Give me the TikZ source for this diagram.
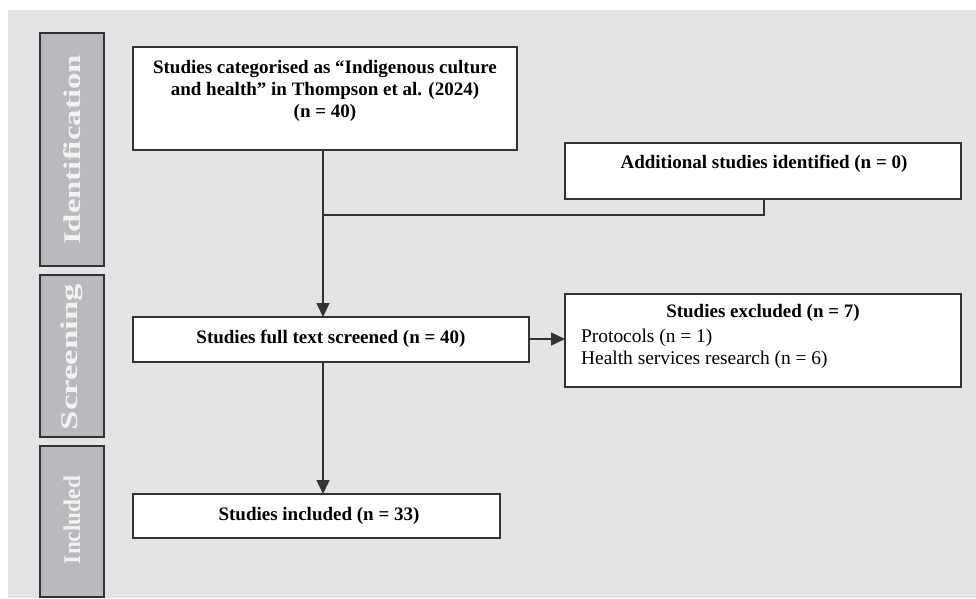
\documentclass[tikz,border=0pt]{standalone}
\usepackage{fontspec}
\setmainfont{Liberation Serif}
\usetikzlibrary{arrows.meta}
\definecolor{bg}{HTML}{E3E4E6}
\definecolor{barfill}{HTML}{B9BABD}
\definecolor{edge}{HTML}{333333}
\definecolor{bartext}{HTML}{F2F2F2}
\begin{document}
\begin{tikzpicture}[x=1pt,y=-1pt,
  box/.style={draw=edge, line width=1.2pt, fill=white},
  bar/.style={draw=edge, line width=1.3pt, fill=barfill},
  bartxt/.style={rotate=90, text=bartext, font=\bfseries\fontsize{24}{26}\selectfont},
  btxt/.style={font=\bfseries\fontsize{19}{22}\selectfont, align=center},
  rtxt/.style={font=\fontsize{19.4}{22}\selectfont},
  conn/.style={draw=edge, line width=1.4pt},
  arr/.style={conn, -{Triangle[length=14pt,width=13pt]}}]
\useasboundingbox (0,0) rectangle (976,598);
\fill[white] (0,0) rectangle (976,598);
\fill[bg] (8,10) rectangle (976,598);
% side bars
\draw[bar] (40,33) rectangle (104,266);
\draw[bar] (40,275) rectangle (104,437);
\draw[bar] (40,446) rectangle (104,597);
\node[bartxt] (lid) at (72,150) {\scalebox{1.37}[1]{Identification}};
\node[bartxt] (lsc) at (72,357) {\scalebox{1.45}[1]{Screening}};
\node[bartxt] (lin) at (72,520) {\scalebox{0.97}[1]{Included}};
% boxes
\draw[box] (133,47) rectangle (517,150);
\node[btxt] (top) at (325,91) {Studies categorised as “Indigenous culture\\and health” in Thompson et al. (2024)\\(n = 40)};
\coordinate (topb) at (323,150);
\draw[box] (565,143) rectangle (961,199);
\node[btxt] (add) at (764,164) {Additional studies identified (n = 0)};
\coordinate (addb) at (764,199);
\draw[box] (133,317) rectangle (529,362);
\node[btxt] (scr) at (331,339) {Studies full text screened (n = 40)};
\coordinate (scrt) at (323,317);
\coordinate (scrb) at (323,362);
\coordinate (scrr) at (529,339);
\draw[box] (565,294) rectangle (961,387);
\node[btxt] (excl) at (763,313) {Studies excluded (n = 7)};
\node[rtxt, anchor=west, inner sep=0pt] (p1) at (581,338) {Protocols (n = 1)};
\node[rtxt, anchor=west, inner sep=0pt] (p2) at (581,360) {Health services research (n = 6)};
\coordinate (exl) at (565,339);
\draw[box] (133,494) rectangle (500,538);
\node[btxt] (inc) at (319,516) {Studies included (n = 33)};
\coordinate (inct) at (323,494);
% connectors
\draw[arr] (topb) -- (scrt);
\coordinate (j) at (323,215);
\draw[conn] (addb) -- (764,215) -- (j);
\draw[arr] (scrr) -- (exl);
\draw[arr] (scrb) -- (inct);
\end{tikzpicture}
\end{document}
